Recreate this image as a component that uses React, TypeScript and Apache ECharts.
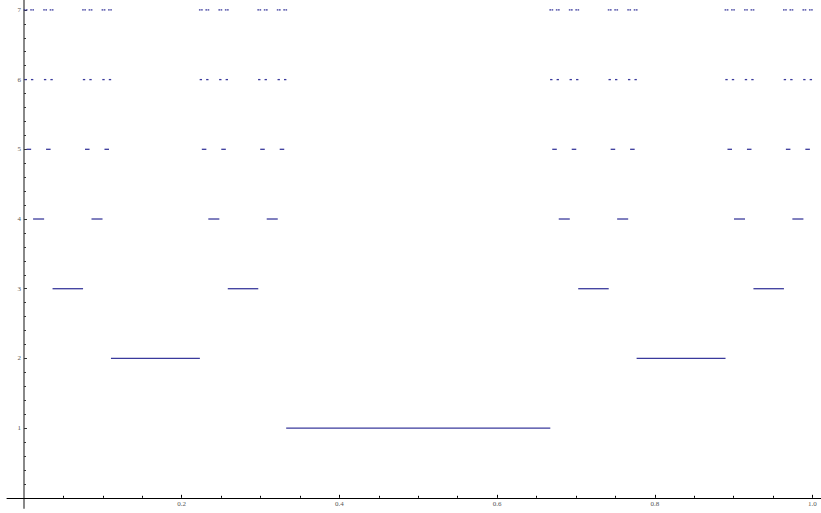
import React, { useEffect, useRef } from "react";
import * as echarts from "echarts";

// Removed middle-third intervals of the Cantor construction, read level by level.
// Each level: denominator and the numerators of the left ends of removed intervals
// (each removed interval is [n/den, (n+1)/den]).
const levels = [1, 2, 3, 4, 5, 6, 7];
const denominators = [3, 9, 27, 81, 243, 729, 2187];
const level1Lefts = [1];
const level2Lefts = [1, 7];
const level3Lefts = [1, 7, 19, 25];
const level4Lefts = [1, 7, 19, 25, 55, 61, 73, 79];
const level5Lefts = [1, 7, 19, 25, 55, 61, 73, 79, 163, 169, 181, 187, 217, 223, 235, 241];
const level6Lefts = [
  1, 7, 19, 25, 55, 61, 73, 79, 163, 169, 181, 187, 217, 223, 235, 241,
  487, 493, 505, 511, 541, 547, 559, 565, 649, 655, 667, 673, 703, 709, 721, 727,
];
const level7Lefts = [
  1, 7, 19, 25, 55, 61, 73, 79, 163, 169, 181, 187, 217, 223, 235, 241,
  487, 493, 505, 511, 541, 547, 559, 565, 649, 655, 667, 673, 703, 709, 721, 727,
  1459, 1465, 1477, 1483, 1513, 1519, 1531, 1537, 1621, 1627, 1639, 1645, 1675, 1681, 1693, 1699,
  1945, 1951, 1963, 1969, 1999, 2005, 2017, 2023, 2107, 2113, 2125, 2131, 2161, 2167, 2179, 2185,
];
const levelLefts = [level1Lefts, level2Lefts, level3Lefts, level4Lefts, level5Lefts, level6Lefts, level7Lefts];

const xMajorTicks = [0.2, 0.4, 0.6, 0.8, 1.0];
const xTickLabels = ["0.2", "0.4", "0.6", "0.8", "1.0"];
const xMinorTicks = [0.05, 0.1, 0.15, 0.25, 0.3, 0.35, 0.45, 0.5, 0.55, 0.65, 0.7, 0.75, 0.85, 0.9, 0.95];
const yMajorTicks = [1, 2, 3, 4, 5, 6, 7];
const yMinorTicks = [
  0.2, 0.4, 0.6, 0.8, 1.2, 1.4, 1.6, 1.8, 2.2, 2.4, 2.6, 2.8, 3.2, 3.4, 3.6, 3.8,
  4.2, 4.4, 4.6, 4.8, 5.2, 5.4, 5.6, 5.8, 6.2, 6.4, 6.6, 6.8, 7.2,
];

export default function App() {
  const ref = useRef<HTMLDivElement>(null);
  useEffect(() => {
    if (!ref.current) return;
    const chart = echarts.init(ref.current, null, { renderer: "svg" });

    const segs: number[][] = [];
    levels.forEach((lv, i) => {
      const d = denominators[i];
      levelLefts[i].forEach((n) => segs.push([n / d, (n + 1) / d, lv]));
    });

    const xMin = -0.02156;
    const xMax = 1.0108;
    const yMin = -0.146;
    const yMax = 7.142;
    const gridLeft = 7;
    const gridBottom = 5;
    const gridW = 821 - gridLeft;
    const gridH = 513 - gridBottom;
    const yAxisOffset = -((0 - xMin) / (xMax - xMin)) * gridW;
    const xAxisOffset = -((0 - yMin) / (yMax - yMin)) * gridH;

    const labelFont = { fontFamily: "Liberation Serif", fontSize: 7, color: "#555" };

    chart.setOption({
      animation: false,
      grid: { left: gridLeft, right: 0, top: 0, bottom: gridBottom, containLabel: false, outerBoundsMode: "none" },
      xAxis: [
        {
          type: "value",
          min: xMin,
          max: xMax,
          position: "bottom",
          offset: xAxisOffset,
          axisLine: { onZero: false, lineStyle: { color: "#000", width: 1 } },
          axisTick: { show: true, inside: true, length: 3, customValues: xMajorTicks, lineStyle: { color: "#000" } },
          axisLabel: {
            show: true,
            customValues: xMajorTicks,
            formatter: (v: number) => xTickLabels[xMajorTicks.findIndex((t) => Math.abs(t - v) < 1e-9)] ?? "",
            margin: 3,
            ...labelFont,
          },
          splitLine: { show: false },
        },
        {
          type: "value",
          min: xMin,
          max: xMax,
          position: "bottom",
          offset: xAxisOffset,
          axisLine: { show: false, onZero: false },
          axisTick: { show: true, inside: true, length: 2, customValues: xMinorTicks, lineStyle: { color: "#000" } },
          axisLabel: { show: false },
          splitLine: { show: false },
        },
      ],
      yAxis: [
        {
          type: "value",
          min: yMin,
          max: yMax,
          position: "left",
          offset: yAxisOffset,
          axisLine: { onZero: false, lineStyle: { color: "#888", width: 2 } },
          axisTick: { show: true, inside: true, length: 3, customValues: yMajorTicks, lineStyle: { color: "#333" } },
          axisLabel: { show: true, customValues: yMajorTicks, margin: 3, ...labelFont },
          splitLine: { show: false },
        },
        {
          type: "value",
          min: yMin,
          max: yMax,
          position: "left",
          offset: yAxisOffset,
          axisLine: { show: false, onZero: false },
          axisTick: { show: true, inside: true, length: 2, customValues: yMinorTicks, lineStyle: { color: "#333" } },
          axisLabel: { show: false },
          splitLine: { show: false },
        },
      ],
      series: [
        {
          type: "custom",
          xAxisIndex: 0,
          yAxisIndex: 0,
          data: segs,
          renderItem: (params: any, api: any) => {
            const p1 = api.coord([api.value(0), api.value(2)]);
            const p2 = api.coord([api.value(1), api.value(2)]);
            return {
              type: "line",
              shape: { x1: p1[0], y1: p1[1], x2: p2[0], y2: p2[1] },
              style: { stroke: "#3a3a9c", lineWidth: 1.3, lineCap: "square" },
            };
          },
        },
      ],
    });
    return () => chart.dispose();
  }, []);
  return <div ref={ref} style={{ position: "fixed", left: 0, top: 0, width: 821, height: 513, background: "#fff" }} />;
}
